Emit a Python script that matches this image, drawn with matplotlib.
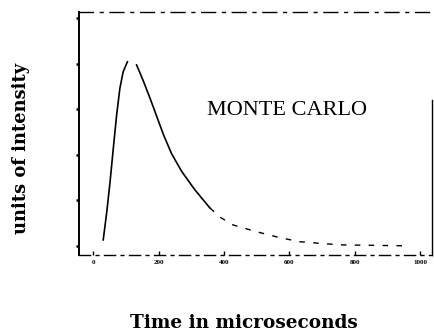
import matplotlib.pyplot as plt

# rising edge of the pulse (time in microseconds, intensity units)
rise_t = [31, 42, 52, 62, 72, 82, 92, 105]
rise_y = [0.13, 0.75, 1.41, 2.15, 2.87, 3.46, 3.82, 4.04]

# decay after the peak
decay_t = [133, 154, 174, 194, 215, 240, 271, 311, 357]
decay_y = [3.97, 3.61, 3.24, 2.85, 2.44, 2.02, 1.63, 1.23, 0.83]

# faint tail running down to the baseline
tail_t = [357, 390, 427, 470, 510, 570, 632, 700, 760, 860, 960]
tail_y = [0.83, 0.62, 0.46, 0.37, 0.29, 0.18, 0.09, 0.05, 0.02, 0.01, 0.0]

xticks = [0, 200, 400, 600, 800, 1000]
yticks = [0, 1, 2, 3, 4, 5]

fig = plt.figure(figsize=(4.34, 3.35), dpi=100)
ax = fig.add_axes([0.182, 0.239, 0.813, 0.725])

ax.plot(rise_t, rise_y, color='black', lw=1.2)
ax.plot(decay_t, decay_y, color='black', lw=1.2)
ax.plot(tail_t, tail_y, color='black', lw=1.0, linestyle=(0, (4, 6)))

ax.set_xlim(-43, 1035)
ax.set_ylim(-0.2, 5.13)

ax.set_xticks(xticks)
ax.set_xticklabels([str(v) for v in xticks], fontsize=5, fontweight='bold',
                   family='Liberation Serif')
ax.set_yticks(yticks)
ax.set_yticklabels([])
ax.tick_params(axis='x', direction='in', length=3, width=1.0, pad=3.5)
ax.tick_params(axis='y', direction='out', length=2.5, width=1.8, pad=0)

# broken-looking frame
ax.spines['left'].set_linewidth(1.4)
ax.spines['top'].set_linewidth(1.0)
ax.spines['top'].set_linestyle((0, (10, 5, 2, 5)))
ax.spines['bottom'].set_linewidth(1.0)
ax.spines['bottom'].set_linestyle((0, (8, 4, 2, 4)))
ax.spines['right'].set_linewidth(1.0)
ax.spines['right'].set_bounds(-0.2, 3.2)

ax.text(592, 2.96, 'MONTE CARLO', fontsize=16, family='Liberation Serif',
        ha='center', va='center')

fig.text(21 / 434, 1 - 148 / 335, 'units of intensity', rotation=90,
         fontsize=12.9, fontweight='bold', family='DejaVu Serif',
         ha='center', va='center')
fig.text(244 / 434, 1 - 323 / 335, 'Time in microseconds',
         fontsize=13.3, fontweight='bold', family='DejaVu Serif',
         ha='center', va='center')

fig.savefig('out.png', dpi=100)
